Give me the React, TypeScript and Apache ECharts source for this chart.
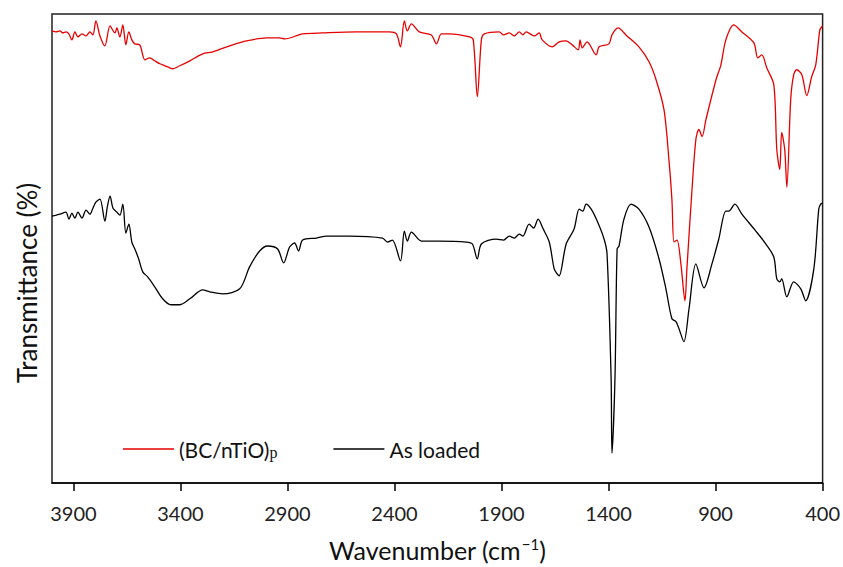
import React, { useEffect, useRef } from "react";
import * as echarts from "echarts";

// Wavenumber (cm-1) and transmittance (arbitrary units) for (BC/nTiO)p
const redWavenumber = [
  4000, 3981, 3963, 3949, 3935, 3921, 3907, 3893, 3879, 3860, 3841, 3823, 3809, 3795, 3776, 3753,
  3729, 3706, 3697, 3683, 3669, 3655, 3641, 3627, 3613, 3590, 3566, 3543, 3520, 3496, 3473, 3450,
  3436, 3403, 3356, 3296, 3249, 3156, 3091, 2997, 2937, 2913, 2829, 2736, 2577, 2424, 2391, 2372,
  2354, 2340, 2321, 2284, 2228, 2204, 2181, 2144, 2050, 2032, 2013, 1994, 1980, 1911, 1890, 1864,
  1840, 1817, 1800, 1785, 1747, 1724, 1710, 1663, 1631, 1598, 1570, 1542, 1533, 1523, 1500, 1458,
  1444, 1398, 1384, 1356, 1314, 1258, 1211, 1178, 1141, 1118, 1104, 1094, 1080, 1062, 1043, 1034,
  1010, 992, 978, 963, 945, 898, 875, 852, 815, 777, 721, 703, 684, 661, 628, 614, 600, 591, 577,
  567, 549, 535, 521, 497, 474, 451, 432, 413, 404, 400,
];
const redTransmittance = [
  456, 455, 456, 454, 455, 453, 447, 455, 450, 453, 451, 455, 452, 466, 451, 441,
  461, 454, 459, 450, 462, 442, 455, 447, 443, 442, 427, 429, 426, 423, 421, 419,
  418, 421, 426, 433, 435, 442, 446, 449, 449, 448, 453, 454, 455, 455, 453, 440,
  466, 456, 463, 455, 452, 443, 453, 453, 450, 447, 390, 447, 453, 455, 452, 454,
  451, 455, 452, 455, 451, 454, 447, 440, 445, 446, 442, 437, 447, 439, 445, 432,
  440, 443, 452, 459, 451, 440, 425, 407, 377, 327, 287, 244, 246, 222, 185, 217,
  297, 347, 357, 350, 367, 407, 422, 447, 462, 455, 444, 429, 432, 419, 402, 337, 317, 354, 337,
  299, 387, 412, 417, 412, 391, 410, 422, 457, 460, 461,
];

// Wavenumber (cm-1) and transmittance (arbitrary units) for As loaded
const blackWavenumber = [
  4000, 3981, 3963, 3935, 3921, 3907, 3893, 3879, 3860, 3841, 3823, 3809, 3795, 3776, 3753, 3741,
  3729, 3715, 3697, 3683, 3669, 3655, 3641, 3627, 3613, 3595, 3576, 3553, 3520, 3483, 3445, 3403,
  3356, 3296, 3263, 3202, 3123, 3077, 3030, 2993, 2946, 2918, 2890, 2867, 2848, 2829, 2764, 2717,
  2610, 2456, 2433, 2410, 2372, 2354, 2340, 2321, 2274, 2190, 2064, 2036, 2013, 1994, 1925, 1890,
  1864, 1840, 1817, 1800, 1771, 1750, 1729, 1705, 1677, 1654, 1640, 1631, 1598, 1561, 1537, 1520,
  1505, 1481, 1453, 1421, 1407, 1388, 1384, 1370, 1360, 1351, 1328, 1295, 1258, 1211, 1164, 1132,
  1104, 1085, 1071, 1048, 1024, 992, 954, 917, 885, 852, 838, 810, 777, 712, 665, 628, 614, 600,
  591, 567, 535, 502, 479, 441, 418, 409, 400,
];
const blackTransmittance = [
  270, 271, 272, 274, 267, 273, 268, 274, 268, 276, 272, 278, 284, 287, 265, 280,
  290, 278, 274, 271, 282, 253, 262, 244, 237, 227, 214, 209, 199, 187, 181, 181,
  187, 196, 194, 192, 197, 219, 235, 240, 237, 223, 239, 243, 235, 246, 248, 250,
  250, 248, 244, 246, 225, 255, 245, 254, 245, 245, 244, 242, 227, 242, 247, 246,
  250, 248, 252, 250, 262, 258, 267, 257, 244, 217, 212, 210, 242, 257, 277, 275,
  282, 277, 265, 247, 232, 107, 32, 107, 237, 240, 267, 282, 277, 259, 227, 197,
  167, 164, 157, 144, 177, 222, 198, 222, 247, 275, 275, 282, 272, 255, 242, 229, 207, 204,
  207, 189, 204, 197, 185, 217, 277, 282, 283,
];

const xTicks = { min: 400, max: 4000, interval: 500 };
const seriesNames = ["(BC/nTiO)p", "As loaded"];
const xTitle = "Wavenumber (cm";
const yTitle = "Transmittance (%)";

const FONT = "Lato, 'Noto Sans', sans-serif";

const zip = (xs: number[], ys: number[]) => xs.map((x, i) => [x, ys[i]]);

export default function App() {
  const ref = useRef<HTMLDivElement>(null);
  useEffect(() => {
    if (!ref.current) return;
    const chart = echarts.init(ref.current, undefined, { renderer: "svg" });
    chart.setOption({
      animation: false,
      backgroundColor: "#fff",
      grid: {
        left: 52,
        right: 19,
        top: 14,
        bottom: 83,
        show: true,
        borderColor: "#222",
        borderWidth: 1.5,
        backgroundColor: "transparent",
      },
      legend: {
        left: 118,
        top: 434,
        icon: "rect",
        itemWidth: 51,
        itemHeight: 1.5,
        itemGap: 56,
        data: seriesNames,
        textStyle: {
          fontFamily: FONT,
          fontSize: 21,
          color: "#111",
          rich: {
            n: { fontFamily: FONT, fontSize: 21, lineHeight: 22, color: "#111", verticalAlign: "bottom" },
            p: { fontFamily: "'Liberation Serif', serif", fontSize: 16, lineHeight: 13, color: "#111", verticalAlign: "bottom" },
          },
        },
        formatter: (name: string) =>
          name === seriesNames[0] ? "{n|(BC/nTiO)}{p|p}" : "{n|" + name + "}",
      },
      xAxis: {
        type: "value",
        inverse: true,
        min: xTicks.min,
        max: xTicks.max,
        interval: xTicks.interval,
        splitLine: { show: false },
        axisLine: { show: true, lineStyle: { color: "#000", width: 1.5 } },
        axisTick: { show: true, inside: false, length: 8, lineStyle: { color: "#000", width: 1.5 } },
        axisLabel: {
          showMaxLabel: false,
          margin: 20,
          fontFamily: FONT,
          fontSize: 20,
          color: "#222",
          formatter: (v: number) => String(v),
        },
        name: "{a|" + xTitle + "}{s|−1}{a|)}",
        nameLocation: "middle",
        nameGap: 53,
        nameTextStyle: {
          rich: {
            a: { fontFamily: FONT, fontSize: 25, color: "#111", lineHeight: 26, verticalAlign: "bottom" },
            s: { fontFamily: FONT, fontSize: 15, color: "#111", lineHeight: 26, verticalAlign: "top", padding: [0, 0, 0, 1] },
          },
        },
      },
      yAxis: {
        type: "value",
        min: 2,
        max: 473,
        show: false,
        splitLine: { show: false },
      },
      graphic: [
        {
          type: "text",
          x: 27,
          y: 283,
          rotation: Math.PI / 2,
          style: {
            text: yTitle,
            fontFamily: FONT,
            fontSize: 26,
            fill: "#111",
            textAlign: "center",
            textVerticalAlign: "middle",
          },
        },
      ],
      series: [
        {
          name: seriesNames[0],
          type: "line",
          data: zip(redWavenumber, redTransmittance),
          symbol: "none",
          smooth: 0.3,
          lineStyle: { color: "#e60000", width: 1.3 },
          itemStyle: { color: "#e60000" },
        },
        {
          name: seriesNames[1],
          type: "line",
          data: zip(blackWavenumber, blackTransmittance),
          symbol: "none",
          smooth: 0.3,
          lineStyle: { color: "#000", width: 1.3 },
          itemStyle: { color: "#000" },
        },
      ],
    });
    return () => chart.dispose();
  }, []);
  return <div ref={ref} style={{ width: 843, height: 567, position: "absolute", left: 0, top: 0 }} />;
}
